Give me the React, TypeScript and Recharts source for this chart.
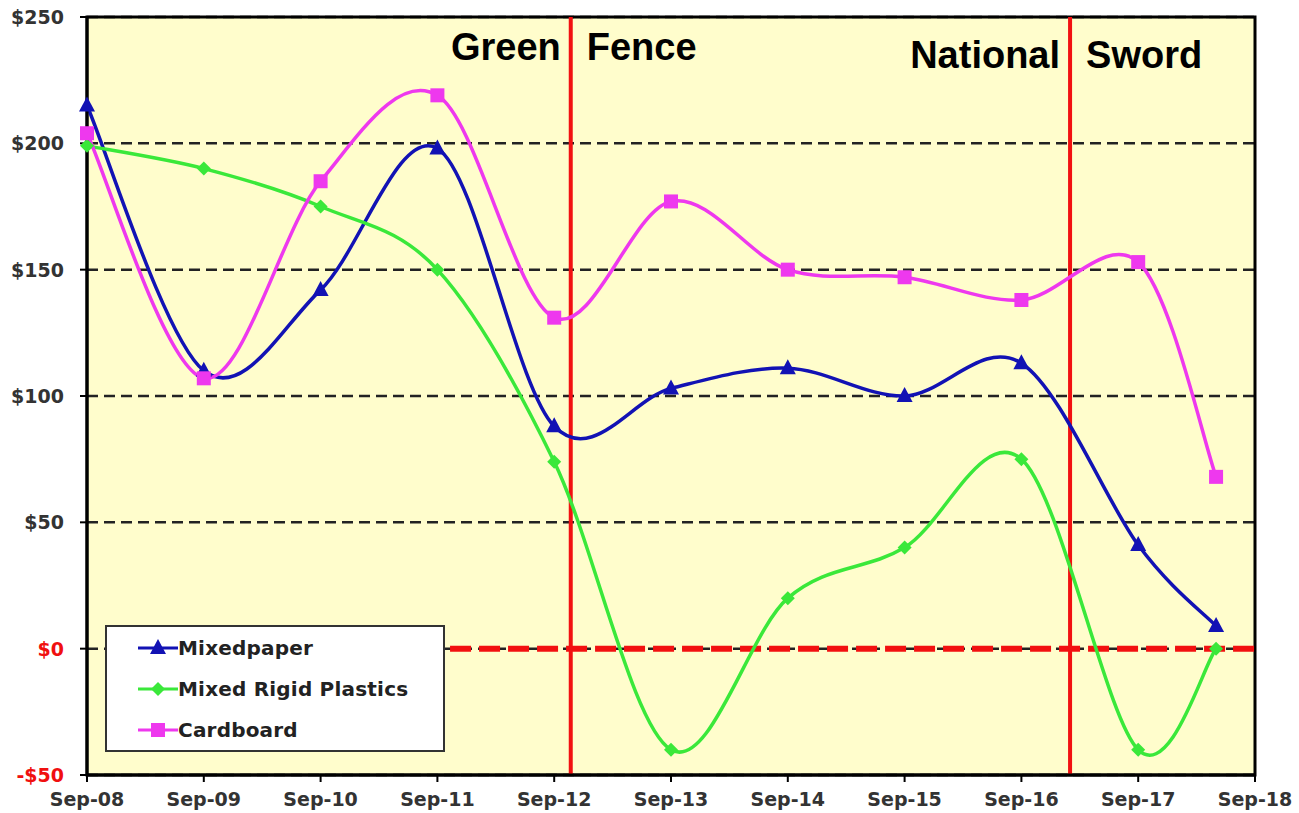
import { LineChart, Line, XAxis, YAxis, CartesianGrid, ReferenceLine, ReferenceArea, Legend } from 'recharts';

// months since Sep-08 for each reading (last one is May-18)
const months = [0, 12, 24, 36, 48, 60, 72, 84, 96, 108, 116];
const mixedPaper = [215, 110, 142, 198, 88, 103, 111, 100, 113, 41, 9];
const rigidPlastics = [199, 190, 175, 150, 74, -40, 20, 40, 75, -40, 0];
const cardboard = [204, 107, 185, 219, 131, 177, 150, 147, 138, 153, 68];

const xTicks = [0, 12, 24, 36, 48, 60, 72, 84, 96, 108, 120];
const xTickLabels = ['Sep-08', 'Sep-09', 'Sep-10', 'Sep-11', 'Sep-12', 'Sep-13', 'Sep-14', 'Sep-15', 'Sep-16', 'Sep-17', 'Sep-18'];
const yTicks = [-50, 0, 50, 100, 150, 200, 250];

// policy events, in months since Sep-08
const greenFence = 49.7;
const nationalSword = 101;

const data = months.map((m, i) => ({
  m,
  paper: mixedPaper[i],
  plastics: rigidPlastics[i],
  cardboard: cardboard[i],
}));

const series = [
  { key: 'paper', name: 'Mixedpaper', color: '#1212B4', shape: 'triangle' },
  { key: 'plastics', name: 'Mixed Rigid Plastics', color: '#3AE83A', shape: 'diamond' },
  { key: 'cardboard', name: 'Cardboard', color: '#EE38EE', shape: 'square' },
];

// Excel-like smoothed line (Catmull-Rom through the points)
const smooth = (context: any) => {
  let pts: [number, number][] = [];
  return {
    areaStart() {},
    areaEnd() {},
    lineStart() { pts = []; },
    point(x: number, y: number) { pts.push([+x, +y]); },
    lineEnd() {
      if (!pts.length) return;
      context.moveTo(pts[0][0], pts[0][1]);
      for (let i = 0; i < pts.length - 1; i++) {
        const p0 = pts[Math.max(i - 1, 0)];
        const p1 = pts[i];
        const p2 = pts[i + 1];
        const p3 = pts[Math.min(i + 2, pts.length - 1)];
        context.bezierCurveTo(
          p1[0] + (p2[0] - p0[0]) / 6, p1[1] + (p2[1] - p0[1]) / 6,
          p2[0] - (p3[0] - p1[0]) / 6, p2[1] - (p3[1] - p1[1]) / 6,
          p2[0], p2[1],
        );
      }
    },
  };
};

const Marker = ({ cx, cy, shape, color }: any) => {
  if (cx == null || cy == null) return null;
  if (shape === 'triangle') {
    return <polygon points={`${cx},${cy - 9} ${cx - 8},${cy + 6} ${cx + 8},${cy + 6}`} fill={color} />;
  }
  if (shape === 'square') {
    return <rect x={cx - 7} y={cy - 7} width={14} height={14} fill={color} />;
  }
  return <polygon points={`${cx},${cy - 7} ${cx + 7},${cy} ${cx},${cy + 7} ${cx - 7},${cy}`} fill={color} />;
};

const YTick = ({ x, y, payload }: any) => {
  const v = payload.value;
  const label = v < 0 ? `-$${-v}` : `$${v}`;
  return (
    <text x={x} y={y} dy="0.36em" textAnchor="end" fill={v <= 0 ? '#F01010' : '#333'}
      fontFamily="DejaVu Sans" fontWeight="bold" fontSize={19}>
      {label}
    </text>
  );
};

const EventLabel = ({ viewBox, left, right, baseline }: any) => {
  const x = viewBox ? viewBox.x : 0;
  const font = { fontFamily: '"Liberation Sans", Arial', fontWeight: 'bold', fontSize: 38, fill: '#000' } as const;
  return (
    <g>
      <text x={x - 10} y={baseline} textAnchor="end" {...font}>{left}</text>
      <text x={x + 16} y={baseline} textAnchor="start" {...font}>{right}</text>
    </g>
  );
};

const LegendBox = () => (
  <div style={{
    width: 340, height: 127, boxSizing: 'border-box', background: '#fff', border: '2px solid #333',
    paddingLeft: 31, fontFamily: 'DejaVu Sans', fontWeight: 'bold', fontSize: 20, color: '#222',
  }}>
    {series.map((s) => (
      <div key={s.key} style={{ display: 'flex', alignItems: 'center', height: 41 }}>
        <svg width={40} height={18} style={{ display: 'block' }}>
          <line x1={0} y1={9} x2={40} y2={9} stroke={s.color} strokeWidth={3} />
          <Marker cx={20} cy={9} shape={s.shape} color={s.color} />
        </svg>
        <span style={{ letterSpacing: 0.2 }}>{s.name}</span>
      </div>
    ))}
  </div>
);

export default function App() {
  return (
    <div style={{ position: 'absolute', left: 0, top: 0, background: '#fff' }}>
      <LineChart width={1299} height={813} data={data} margin={{ top: 17, right: 44, bottom: 0, left: 10 }}>
        <CartesianGrid vertical={false} fill="#FFFDCC" stroke="#222" strokeWidth={2.5} strokeDasharray="11 6" />
        <XAxis
          dataKey="m"
          type="number"
          domain={[0, 120]}
          ticks={xTicks}
          tickFormatter={(v: number) => xTickLabels[xTicks.indexOf(v)]}
          height={38}
          tickSize={7}
          tickMargin={11}
          axisLine={{ stroke: '#000', strokeWidth: 3 }}
          tickLine={{ stroke: '#000', strokeWidth: 2 }}
          tick={{ fill: '#333', fontFamily: 'DejaVu Sans', fontWeight: 'bold', fontSize: 19 }}
        />
        <YAxis
          domain={[-50, 250]}
          ticks={yTicks}
          width={77}
          tickSize={7}
          tickMargin={16}
          axisLine={{ stroke: '#000', strokeWidth: 3 }}
          tickLine={{ stroke: '#000', strokeWidth: 2 }}
          tick={<YTick />}
        />
        <ReferenceArea x1={0} x2={120} y1={-50} y2={250} fill="none" stroke="#000" strokeWidth={3} />
        <ReferenceLine
          segment={[{ x: 37.3, y: 0 }, { x: 120, y: 0 }]}
          stroke="#F21010"
          strokeWidth={6}
          strokeDasharray="21 8"
        />
        <ReferenceLine x={greenFence} stroke="#F21010" strokeWidth={4}
          label={<EventLabel left="Green" right="Fence" baseline={60} />} />
        <ReferenceLine x={nationalSword} stroke="#F21010" strokeWidth={4}
          label={<EventLabel left="National" right="Sword" baseline={68} />} />
        {series.map((s) => (
          <Line
            key={s.key}
            dataKey={s.key}
            name={s.name}
            type={smooth as any}
            stroke={s.color}
            strokeWidth={3.5}
            dot={(p: any) => <Marker key={`${s.key}-${p.index}`} cx={p.cx} cy={p.cy} shape={s.shape} color={s.color} />}
            activeDot={false}
            isAnimationActive={false}
          />
        ))}
        <Legend
          layout="vertical"
          align="center"
          verticalAlign="middle"
          content={<LegendBox />}
          wrapperStyle={{ position: 'absolute', left: 105, top: 625, width: 340, height: 127 }}
        />
      </LineChart>
    </div>
  );
}
